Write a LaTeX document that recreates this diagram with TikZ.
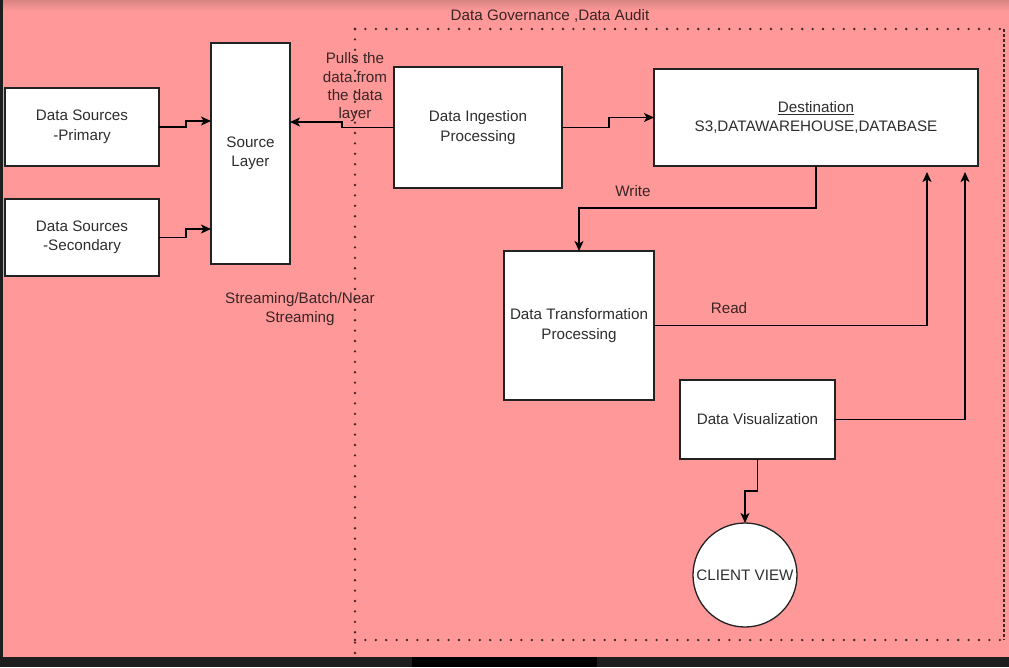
\documentclass[tikz,border=0pt]{standalone}
\usepackage{fontspec}
\setmainfont{Liberation Sans}
\usetikzlibrary{arrows.meta,calc}
\definecolor{bgpink}{HTML}{FF9999}
\definecolor{toppink}{HTML}{D98383}
\definecolor{darkstrip}{HTML}{1E1E1E}
\definecolor{txt}{HTML}{2E2E2E}
\definecolor{lbltxt}{HTML}{3A2424}
\definecolor{edge}{HTML}{222222}
\begin{document}
\begin{tikzpicture}[x=1pt,y=-1pt,
  box/.style={draw=edge,line width=1.3pt,fill=white,text=txt,align=center,
    inner sep=0pt,outer sep=0pt,font=\fontsize{15.2}{19.5}\selectfont},
  circ/.style={circle,draw=edge,line width=1.3pt,fill=white,text=txt,
    inner sep=0pt,outer sep=0pt,minimum size=104pt,font=\fontsize{15.2}{19.5}\selectfont},
  lbl/.style={text=lbltxt,align=center,inner sep=0pt,font=\fontsize{15.2}{18.3}\selectfont},
  arr/.style={draw=black,line width=1.3pt,-{Stealth[length=10pt,width=9pt,inset=2.5pt]}},
  dotline/.style={draw=black!75!bgpink,line width=2.6pt,line cap=round,dash pattern=on 0pt off 10.4pt},
  dashline/.style={draw=black!75!bgpink,line width=1.4pt,dash pattern=on 3pt off 2pt}]
\useasboundingbox (0,0) rectangle (1009,667);
% background
\fill[bgpink] (0,0) rectangle (1009,657);
\shade[top color=toppink,bottom color=bgpink] (0,0) rectangle (1009,11);
\fill[darkstrip] (0,657) rectangle (1009,667);
\fill[black] (412,657) rectangle (597,667);
\fill[darkstrip] (0,0) rectangle (2.7,657);
% governance frame
\draw[dotline] (355,29) -- (1004,29);
\draw[dotline] (355,640) -- (1004,640);
\draw[dotline] (355,29) -- (355,657);
\draw[dashline] (1004,29) -- (1004,640);
\node[lbl] (gov) at (550,16) {Data Governance ,Data Audit};
% boxes
\node[box,minimum width=154pt,minimum height=78pt] (prim) at (82,127) {Data Sources\\-Primary};
\node[box,minimum width=154pt,minimum height=77pt] (sec) at (82,237.5) {Data Sources\\-Secondary};
\node[box,minimum width=79pt,minimum height=221pt] (src) at (250.5,153.5) {Source\\Layer};
\node[box,minimum width=168pt,minimum height=121pt] (ing) at (478,127.5) {Data Ingestion\\Processing};
\node[box,minimum width=324pt,minimum height=97pt] (dest) at (816,117.5) {\underline{Destination}\\S3,DATAWAREHOUSE,DATABASE};
\node[box,minimum width=150pt,minimum height=149pt] (trans) at (579,325.5) {Data Transformation\\Processing};
\node[box,minimum width=155pt,minimum height=79pt] (vis) at (757.5,419.5) {Data Visualization};
\node[circ] (client) at (745,575) {CLIENT VIEW};
% labels
\node[lbl] (pulls) at (355,87.5) {Pulls the\\data from\\the data\\layer};
\node[lbl] (stream) at (300,309) {Streaming/Batch/Near\\Streaming};
\node[lbl] (write) at (633,191) {Write};
\node[lbl] (read) at (729,308) {Read};
% connectors
\draw[arr] (prim.east) -- ++(27,0) |- ([yshift=32.5pt]src.west);
\draw[arr] (sec.east) -- ++(27,0) |- ([yshift=-75.5pt]src.west);
\draw[arr] (ing.west) -- ++(-52,0) |- ([yshift=31.5pt]src.east);
\draw[arr] (ing.east) -- ++(47,0) |- (dest.west);
\draw[arr] (dest.south) -- ++(0,42) -| (trans.north);
\draw[arr] (trans.east) -| ([xshift=111pt,yshift=-6pt]dest.south);
\draw[arr] (vis.east) -| ([xshift=149pt,yshift=-6pt]dest.south);
\draw[arr] (vis.south) -- ++(0,32) -| (client.north);
\end{tikzpicture}
\end{document}
